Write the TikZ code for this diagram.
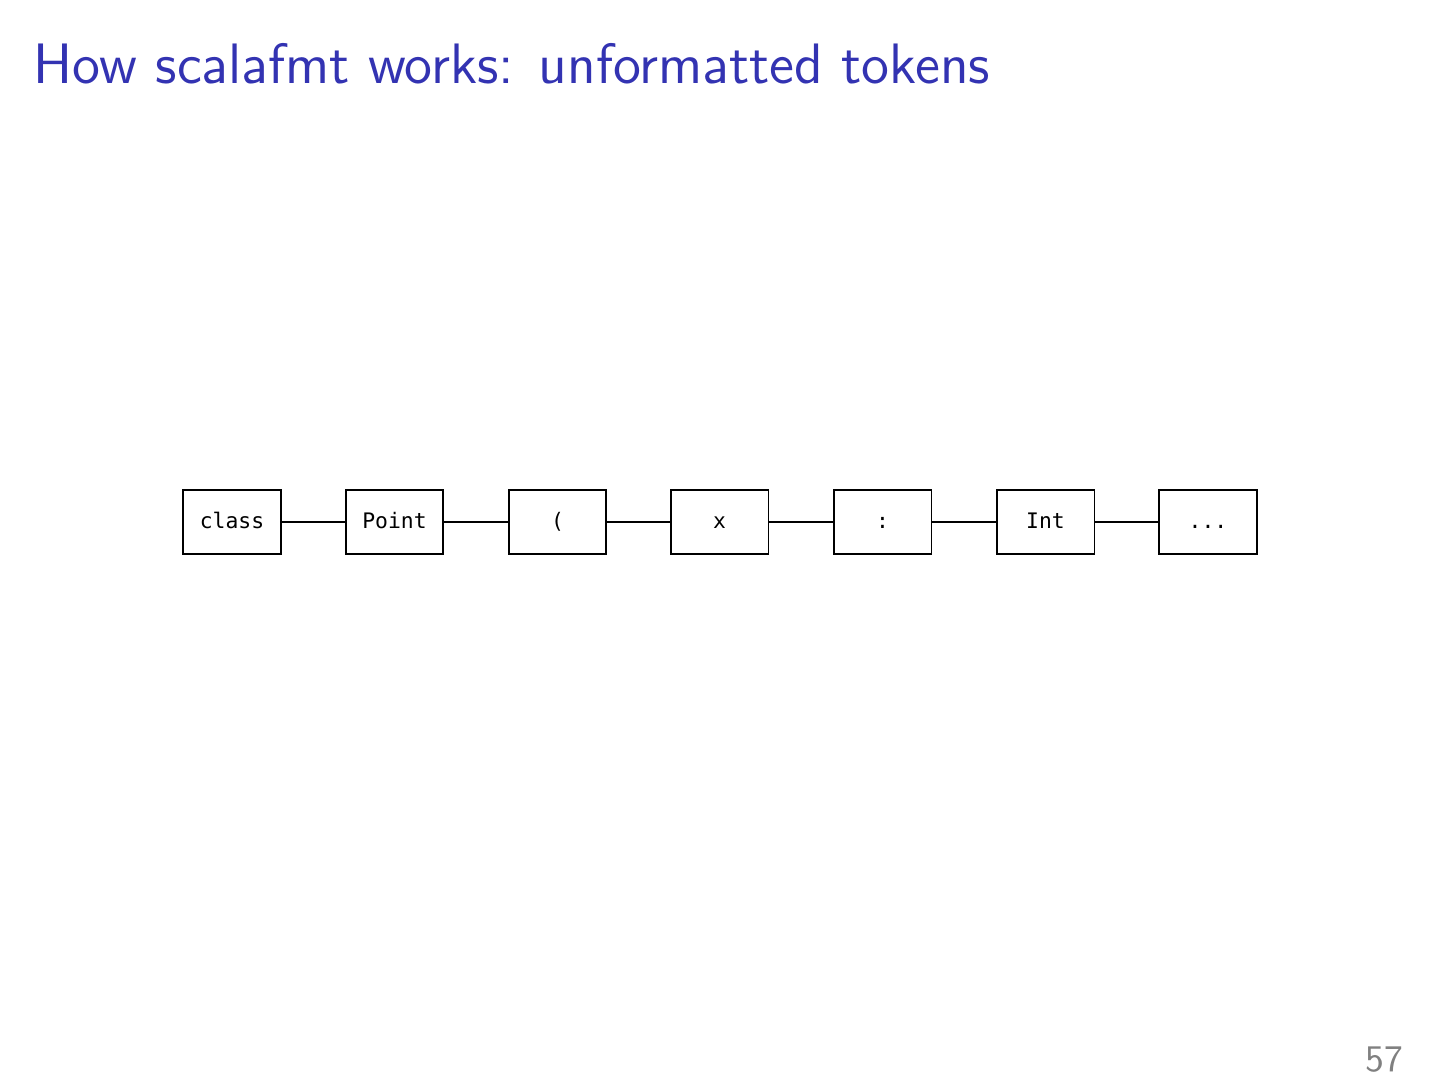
\documentclass[tikz,border=0pt]{standalone}
\usepackage{fontspec}
\setmonofont[Ligatures=NoCommon]{DejaVu Sans Mono}
\definecolor{titleblue}{RGB}{51,51,178}
\definecolor{pagegray}{RGB}{128,128,128}
\begin{document}
\begin{tikzpicture}[x=0.088827mm,y=-0.088807mm,
  tok/.style={draw,line width=0.5pt,minimum width=8.7mm,minimum height=5.7mm,inner sep=0pt,text height=1.45mm,text depth=0.35mm,font=\ttfamily\fontsize{5.4}{6}\selectfont},
  link/.style={line width=0.5pt}]
\useasboundingbox (0,0) rectangle (1441,1081);
\node[anchor=base west,inner sep=0pt,text=titleblue,font=\sffamily\fontsize{14.4}{17}\selectfont] (title) at (33,83) {How scalafmt works: unformatted tokens};
\node[anchor=base east,inner sep=0pt,text=pagegray,font=\sffamily\fontsize{9.5}{11}\selectfont] (page) at (1404,1072) {57};
\node[tok] (t1) at (232,522) {class};
\node[tok] (t2) at (394.5,522) {Point};
\node[tok] (t3) at (557.5,522) {(};
\node[tok] (t4) at (719.5,522) {x};
\node[tok] (t5) at (882.5,522) {:};
\node[tok] (t6) at (1045.5,522) {Int};
\node[tok] (t7) at (1208,522) {...};
\foreach \a/\b in {t1/t2,t2/t3,t3/t4,t4/t5,t5/t6,t6/t7}
  \draw[link] (\a) -- (\b);
\end{tikzpicture}
\end{document}
